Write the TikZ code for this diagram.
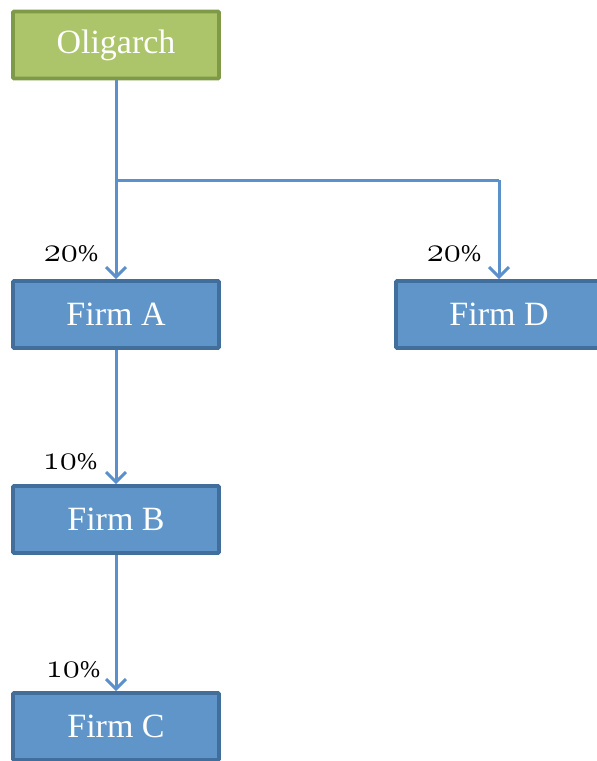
\documentclass[tikz,border=0pt]{standalone}
\usepackage{fontspec}
\setmainfont{Liberation Serif}
\usetikzlibrary{arrows.meta}
\definecolor{grfill}{RGB}{172,197,106}
\definecolor{grdraw}{RGB}{126,153,72}
\definecolor{blfill}{RGB}{96,149,202}
\definecolor{bldraw}{RGB}{65,110,155}
\definecolor{lncol}{RGB}{92,144,202}
\newcommand{\osn}[1]{\scalebox{1.4}{\usefont{OML}{cmm}{m}{it}#1}}
\tikzset{
  box/.style={draw=bldraw, fill=blfill, line width=3.6pt, rounded corners=1pt,
    minimum width=206pt, minimum height=67pt, inner sep=0pt, text=white,
    font=\fontsize{34}{38}\selectfont},
  gbox/.style={box, draw=grdraw, fill=grfill},
  conn/.style={draw=lncol, line width=3pt, -{Straight Barb[length=10pt,width=20pt,line width=3pt]}},
  plain/.style={draw=lncol, line width=3pt},
  pct/.style={font=\fontsize{24}{28}\selectfont, inner sep=0pt}
}
\begin{document}
\begin{tikzpicture}[x=1pt,y=1pt]
\useasboundingbox (0,0) rectangle (597,-761);
\clip (0,0) rectangle (597,-761);
\node[gbox] (olig) at (116,-45) {Oligarch};
\node[box] (fa) at (116,-314.5) {Firm A};
\node[box] (fd) at (499,-314.5) {Firm D};
\node[box] (fb) at (116,-519.5) {Firm B};
\node[box] (fc) at (116,-726.5) {Firm C};
\coordinate (split) at (116,-180);
\coordinate (turn) at (499,-180);
\draw[plain] (olig.south) -- (split);
\draw[conn] (split) -- (fa.north);
\draw[plain] (split) -- (turn);
\draw[conn] (turn) -- (fd.north);
\draw[conn] (fa.south) -- (fb.north);
\draw[conn] (fb.south) -- (fc.north);
\node[pct] (l1) at (71,-254) {\osn{20}\%};
\node[pct] (l2) at (454,-254) {\osn{20}\%};
\node[pct] (l3) at (70,-462) {\osn{10}\%};
\node[pct] (l4) at (73,-670) {\osn{10}\%};
\end{tikzpicture}
\end{document}
